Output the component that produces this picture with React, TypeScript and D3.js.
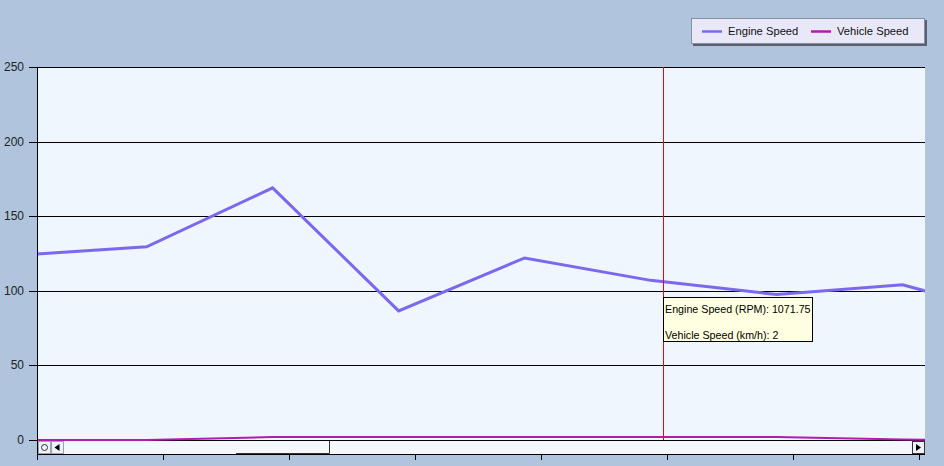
import React from "react";
import * as d3 from "d3";

const W = 944;
const H = 466;

const timeValues = [-0.13, 0.87, 1.87, 2.87, 3.87, 4.87, 5.87, 6.87, 7.87];
const engineSpeed = [124, 129.5, 169, 86.5, 122, 107, 97.5, 104, 81];
const vehicleSpeed = [0, 0, 2, 2, 2, 2, 2, 0.3, 0];
const yTicks = [0, 50, 100, 150, 200, 250];
const xTicks = [0, 1, 2, 3, 4, 5, 6, 7];
const seriesNames = ["Engine Speed", "Vehicle Speed"];
const seriesColors = ["#7B68EE", "#B01CB0"];
const tooltipLines = ["Engine Speed (RPM): 1071.75", "Vehicle Speed (km/h): 2"];
const cursorX = 4.968;

const PL = 37, PR = 925, PT = 67, PB = 440, AXB = 454;

export default function App() {
  const x = d3.scaleLinear().domain([0, 7]).range([PL, 919]);
  const y = d3.scaleLinear().domain([0, 250]).range([PB, PT]);
  const line = d3
    .line<number>()
    .x((_, i) => x(timeValues[i]))
    .y((d) => y(d));
  const cxi = Math.round(x(cursorX));
  const font = "'Liberation Sans', Arial, sans-serif";
  return (
    <svg
      width={W}
      height={H}
      style={{ position: "absolute", left: 0, top: 0, display: "block" }}
      fontFamily={font}
    >
      <defs>
        <clipPath id="plotclip">
          <rect x={PL} y={PT} width={PR - PL} height={PB - PT + 1} />
        </clipPath>
      </defs>
      <rect x={0} y={0} width={W} height={H} fill="#B0C4DE" />
      <rect x={PL} y={PT} width={PR - PL} height={AXB - PT} fill="#F0F6FD" />
      {yTicks.map((t) => (
        <g key={t}>
          <line x1={29} x2={PR} y1={Math.round(y(t)) + 0.5} y2={Math.round(y(t)) + 0.5} stroke="#000" strokeWidth={1} />
          <text x={24} y={Math.round(y(t)) + 4} textAnchor="end" fontSize={12} fill="#222">
            {t}
          </text>
        </g>
      ))}
      <g clipPath="url(#plotclip)">
        <path d={line(vehicleSpeed) || ""} fill="none" stroke={seriesColors[1]} strokeWidth={2} />
        <path d={line(engineSpeed) || ""} fill="none" stroke={seriesColors[0]} strokeWidth={3} />
      </g>
      <rect x={PL + 1} y={PB + 1} width={PR - PL - 1} height={AXB - PB - 1} fill="#F4F8FD" />
      <g>
        <rect x={38.5} y={441.5} width={12} height={12} fill="#EEF2F8" stroke="#9AA4B0" />
        <circle cx={44.5} cy={447.5} r={3} fill="none" stroke="#333" strokeWidth={1} />
        <rect x={51.5} y={441.5} width={12} height={12} fill="#EEF2F8" stroke="#9AA4B0" />
        <path d="M54.5,447.5 L59.5,444 L59.5,451 Z" fill="#000" />
        <rect x={912.5} y={441.5} width={12} height={12} fill="#EEF2F8" stroke="#333" />
        <path d="M921,447.5 L916,444 L916,451 Z" fill="#000" />
        <path d="M236,453.5 L329.5,453.5 L329.5,441" fill="none" stroke="#333" strokeWidth={1} />
      </g>
      <line x1={PL + 0.5} x2={PL + 0.5} y1={PT} y2={460} stroke="#000" />
      <line x1={PL} x2={PR} y1={AXB + 0.5} y2={AXB + 0.5} stroke="#000" />
      {xTicks.map((t) => (
        <line key={t} x1={Math.round(x(t)) + 0.5} x2={Math.round(x(t)) + 0.5} y1={AXB} y2={460} stroke="#000" />
      ))}
      <rect x={cxi} y={PT} width={1} height={PB - PT} fill="#FF0000" />
      <g>
        <rect x={cxi + 0.5} y={297.5} width={149} height={44} fill="#FFFFE1" stroke="#000" />
        {tooltipLines.map((t, i) => (
          <text key={i} x={cxi + 2} y={313 + i * 26} fontSize={10.7} fill="#000">
            {t}
          </text>
        ))}
      </g>
      <g>
        <rect x={693} y={20} width={234} height={26} fill="#5A6070" />
        <rect x={691.5} y={18.5} width={233} height={25} fill="#E8E8F8" stroke="#8890A0" />
        {seriesNames.map((n, i) => {
          const lx = i === 0 ? 702 : 811;
          return (
            <g key={n}>
              <line x1={lx} x2={lx + 20} y1={31.5} y2={31.5} stroke={seriesColors[i]} strokeWidth={2.5} />
              <text x={lx + 26} y={35} fontSize={11.2} fill="#111">
                {n}
              </text>
            </g>
          );
        })}
      </g>
    </svg>
  );
}
